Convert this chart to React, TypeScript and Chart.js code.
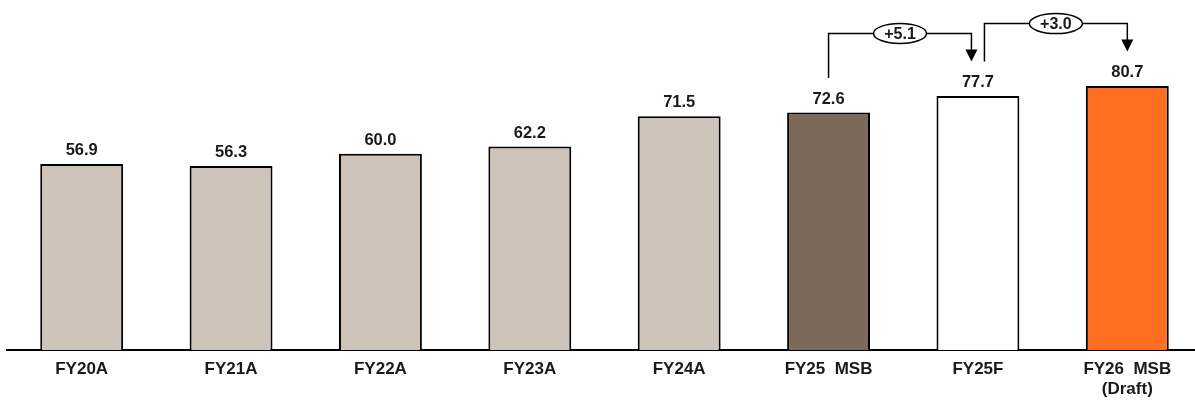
import { useEffect, useRef } from "react";
import { Chart, registerables } from "chart.js";

Chart.register(...registerables);

// Fiscal-year categories (multi-line where the label wraps)
const categories: (string | string[])[] = [
  "FY20A",
  "FY21A",
  "FY22A",
  "FY23A",
  "FY24A",
  "FY25  MSB",
  "FY25F",
  ["FY26  MSB", "(Draft)"],
];

const values = [56.9, 56.3, 60.0, 62.2, 71.5, 72.6, 77.7, 80.7];

const barColors = [
  "#CDC3B9",
  "#CDC3B9",
  "#CDC3B9",
  "#CDC3B9",
  "#CDC3B9",
  "#7B6A58",
  "#FFFFFF",
  "#FF6F22",
];

// Step-change callouts between two bars
const bridgeFrom = [5, 6];
const bridgeTo = [6, 7];
const bridgeLabels = ["+5.1", "+3.0"];

const FONT = "'Liberation Sans', Arial, sans-serif";

const annotationPlugin = {
  id: "barAnnotations",
  afterDatasetsDraw(chart: any) {
    const ctx: CanvasRenderingContext2D = chart.ctx;
    const xs = chart.scales.x;
    const ys = chart.scales.y;
    const capH = 11.5;

    const centerX = (i: number) => xs.getPixelForValue(i);
    const labelTop = (i: number) => ys.getPixelForValue(values[i]) - 9 - capH;

    ctx.save();
    // value labels
    ctx.fillStyle = "#1a1a1a";
    ctx.font = `bold 16.5px ${FONT}`;
    ctx.textAlign = "center";
    ctx.textBaseline = "alphabetic";
    values.forEach((v, i) => {
      const y = ys.getPixelForValue(v) - 9;
      ctx.fillText(v.toFixed(1), centerX(i), y);
    });

    // bridges
    ctx.strokeStyle = "#000";
    ctx.lineWidth = 1.5;
    bridgeFrom.forEach((from, k) => {
      const to = bridgeTo[k];
      const shiftFrom = bridgeTo.includes(from) ? 6.5 : 0;
      const shiftTo = bridgeFrom.includes(to) ? 6.5 : 0;
      const x1 = centerX(from) + shiftFrom;
      const x2 = centerX(to) - shiftTo;
      const y1 = labelTop(from) - 14;
      const y2 = labelTop(to) - 14;
      const yTop = Math.min(labelTop(from), labelTop(to)) - 42;
      const head = 12;

      ctx.beginPath();
      ctx.moveTo(x1, y1);
      ctx.lineTo(x1, yTop);
      ctx.lineTo(x2, yTop);
      ctx.lineTo(x2, y2 - head + 1);
      ctx.stroke();

      ctx.beginPath();
      ctx.fillStyle = "#000";
      ctx.moveTo(x2 - 6, y2 - head);
      ctx.lineTo(x2 + 6, y2 - head);
      ctx.lineTo(x2, y2);
      ctx.closePath();
      ctx.fill();

      const cx = (x1 + x2) / 2;
      ctx.beginPath();
      ctx.ellipse(cx, yTop, 26.5, 10, 0, 0, Math.PI * 2);
      ctx.fillStyle = "#fff";
      ctx.fill();
      ctx.stroke();

      ctx.fillStyle = "#1a1a1a";
      ctx.font = `bold 16px ${FONT}`;
      ctx.textBaseline = "middle";
      ctx.fillText(bridgeLabels[k], cx, yTop + 1);
    });
    ctx.restore();
  },
};

export default function App() {
  const canvasRef = useRef<HTMLCanvasElement | null>(null);

  useEffect(() => {
    if (!canvasRef.current) return;
    const chart = new Chart(canvasRef.current, {
      type: "bar",
      data: {
        labels: categories,
        datasets: [
          {
            data: values,
            backgroundColor: barColors,
            borderColor: "#000",
            borderWidth: 2,
            borderSkipped: "bottom",
            categoryPercentage: 1,
            barPercentage: 0.555,
          },
        ],
      },
      options: {
        responsive: false,
        animation: false,
        devicePixelRatio: 1,
        layout: { padding: { left: 7, right: 1, top: 23, bottom: 0 } },
        plugins: { legend: { display: false }, tooltip: { enabled: false } },
        scales: {
          x: {
            grid: { display: false, drawTicks: false },
            border: { display: true, color: "#000", width: 2 },
            ticks: {
              color: "#1a1a1a",
              font: { family: FONT, size: 17, weight: "bold" },
              padding: 9,
              maxRotation: 0,
              autoSkip: false,
            },
            afterFit: (scale: any) => {
              scale.height = 51;
            },
          },
          y: {
            display: false,
            min: 0,
            max: 100,
          },
        },
      },
      plugins: [annotationPlugin],
    });
    return () => chart.destroy();
  }, []);

  return (
    <div
      style={{
        position: "absolute",
        left: 0,
        top: 0,
        width: 1195,
        height: 401,
        overflow: "hidden",
        background: "#fff",
      }}
    >
      <canvas ref={canvasRef} width={1203} height={401} style={{ width: 1203, height: 401 }} />
    </div>
  );
}
